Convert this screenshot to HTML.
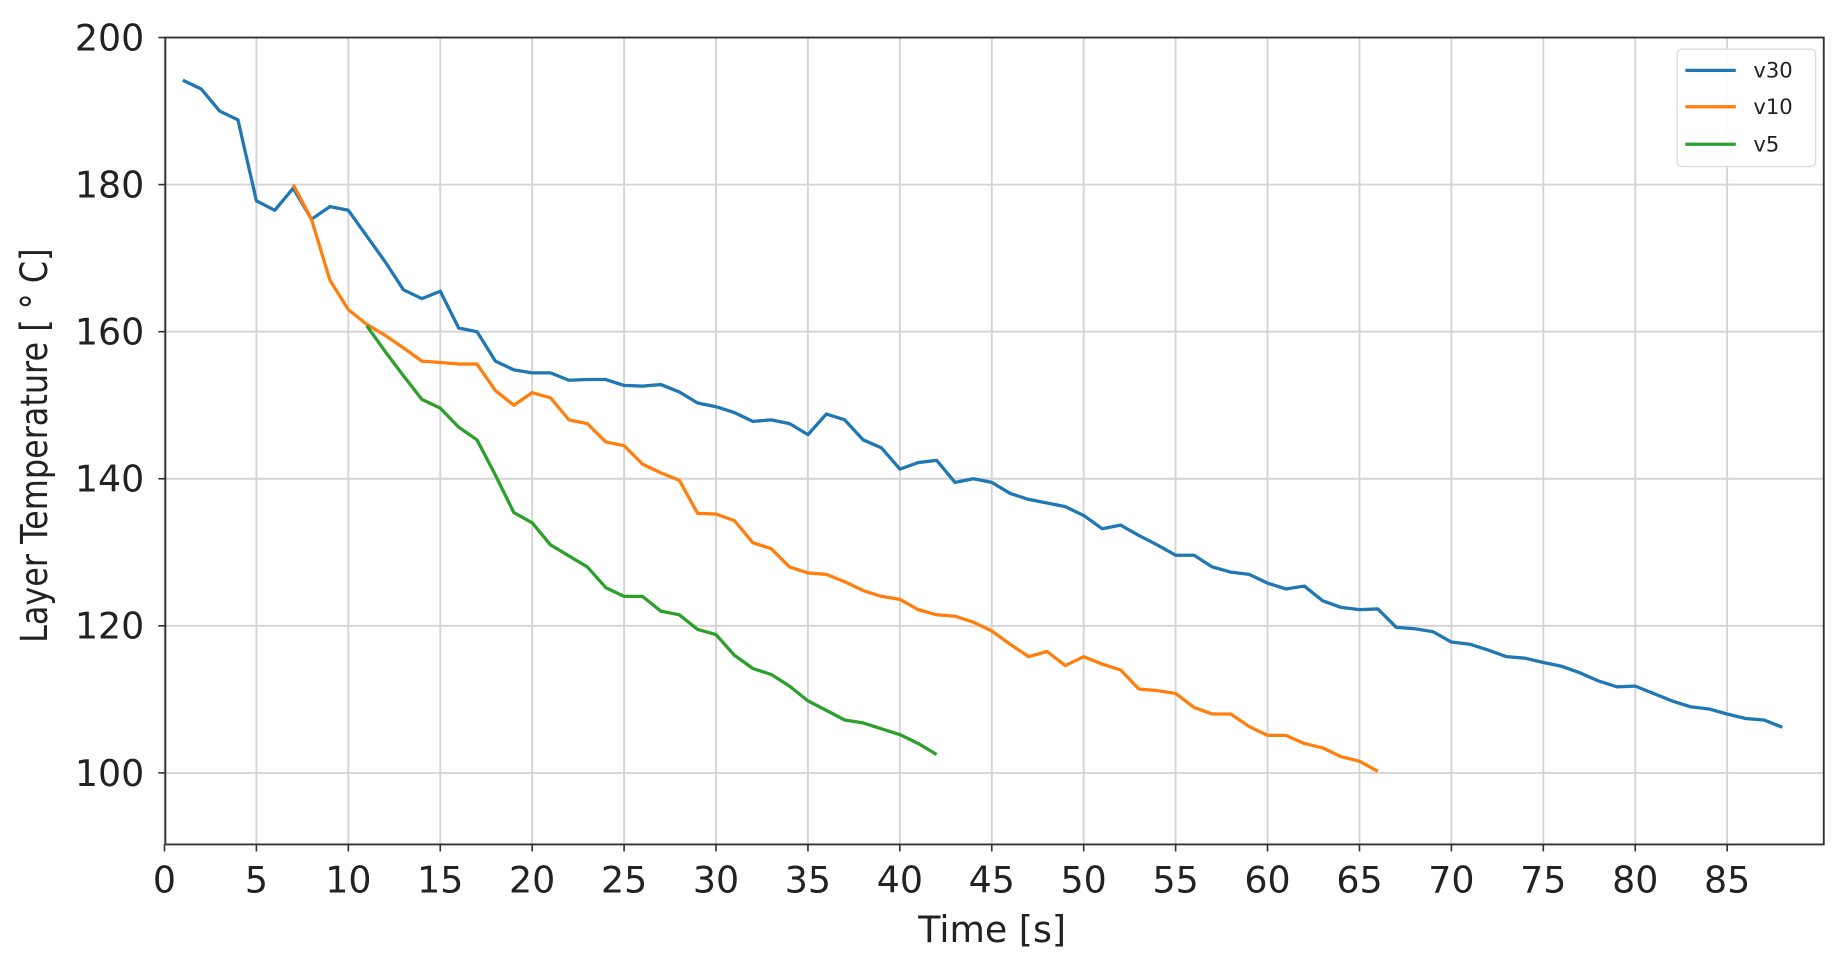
<!DOCTYPE html>
<html><head><meta charset="utf-8"><style>
html,body{margin:0;padding:0;background:#fff;}
svg{display:block;}
text{font-family:"DejaVu Sans","Liberation Sans",sans-serif;fill:#222;}
</style></head><body>
<svg id="s" width="1839" height="967" viewBox="0 0 1568 824.5" preserveAspectRatio="none" xmlns="http://www.w3.org/2000/svg">
<g id="grid"></g>
<g id="series" fill="none" stroke-width="2.8" stroke-linejoin="round"></g>
<rect x="141" y="32" width="1414" height="688" fill="none" stroke="#333" stroke-width="1.6"/>
<g id="ticks"></g>
<text x="846" y="803" font-size="31" text-anchor="middle">Time [s]</text>
<text transform="translate(40,380) rotate(-90) scale(0.85,1)" font-size="32" text-anchor="middle">Layer Temperature [ ° C]</text>
<rect x="1430" y="42" width="118" height="100" rx="4" fill="#fff" fill-opacity="0.9" stroke="#ddd" stroke-width="1.2"/>
<line x1="1437" y1="60" x2="1480" y2="60" stroke="#1f77b4" stroke-width="2.8"/>
<line x1="1437" y1="91" x2="1480" y2="91" stroke="#ff7f0e" stroke-width="2.8"/>
<line x1="1437" y1="123" x2="1480" y2="123" stroke="#2ca02c" stroke-width="2.8"/>
<text x="1495" y="66" font-size="18">v30</text>
<text x="1495" y="97" font-size="18">v10</text>
<text x="1495" y="129" font-size="18">v5</text>
</svg>
<script>
var NS="http://www.w3.org/2000/svg";
function X(v){return 140.25+v*15.675;}
function Y(v){return 32+(200-v)*6.27;}
function el(p,t,a,txt){var e=document.createElementNS(NS,t);for(var k in a)e.setAttribute(k,a[k]);if(txt!=null)e.textContent=txt;document.getElementById(p).appendChild(e);}
for(var x=0;x<=85;x+=5){el("grid","line",{x1:X(x),x2:X(x),y1:32,y2:720,stroke:"#d4d4d4","stroke-width":1.6});
 el("ticks","line",{x1:X(x),x2:X(x),y1:720,y2:726,stroke:"#333","stroke-width":1.4});
 el("ticks","text",{x:X(x),y:761,"font-size":31,"text-anchor":"middle"},x);}
for(var y=100;y<=200;y+=20){el("grid","line",{x1:141,x2:1555,y1:Y(y),y2:Y(y),stroke:"#d4d4d4","stroke-width":1.6});
 el("ticks","line",{x1:135,x2:141,y1:Y(y),y2:Y(y),stroke:"#333","stroke-width":1.4});
 el("ticks","text",{x:123,y:Y(y)+11,"font-size":31,"text-anchor":"end"},y);}
var v30=[194.2,193,190,188.8,177.8,176.5,179.5,175.3,177,176.5,173,169.5,165.7,164.5,165.5,160.5,160,156,154.8,154.4,154.4,153.4,153.5,153.5,152.7,152.6,152.8,151.8,150.3,149.8,149,147.8,148,147.5,146,148.8,148,145.3,144.2,141.3,142.2,142.5,139.5,140,139.5,138,137.2,136.7,136.2,135,133.2,133.7,132.3,131,129.6,129.6,128,127.3,127,125.8,125,125.4,123.4,122.5,122.2,122.3,119.8,119.6,119.2,117.8,117.5,116.7,115.8,115.6,115,114.5,113.6,112.5,111.7,111.8,110.8,109.8,109,108.7,108,107.4,107.2,106.2];
var v10=[180,175.3,167,163,161,159.5,157.8,156,155.8,155.6,155.6,152,150,151.7,151,148,147.5,145,144.5,142,140.8,139.8,135.3,135.2,134.3,131.3,130.5,128,127.2,127,126,124.8,124,123.6,122.2,121.5,121.3,120.5,119.3,117.5,115.8,116.5,114.6,115.8,114.8,114,111.4,111.2,110.8,108.9,108,108,106.3,105.1,105.1,104,103.4,102.2,101.6,100.2];
var v5=[160.8,157.3,154,150.8,149.6,147,145.3,140.5,135.4,134,131,129.5,128,125.2,124,124,122,121.5,119.5,118.8,116,114.2,113.4,111.8,109.8,108.5,107.2,106.8,106,105.2,104,102.5];
function pl(d,s,c){var p=d.map(function(v,i){return X(s+i).toFixed(1)+","+Y(v).toFixed(1);}).join(" ");el("series","polyline",{points:p,stroke:c});}
pl(v30,1,"#1f77b4");pl(v10,7,"#ff7f0e");pl(v5,11,"#2ca02c");
</script>
</body></html>
